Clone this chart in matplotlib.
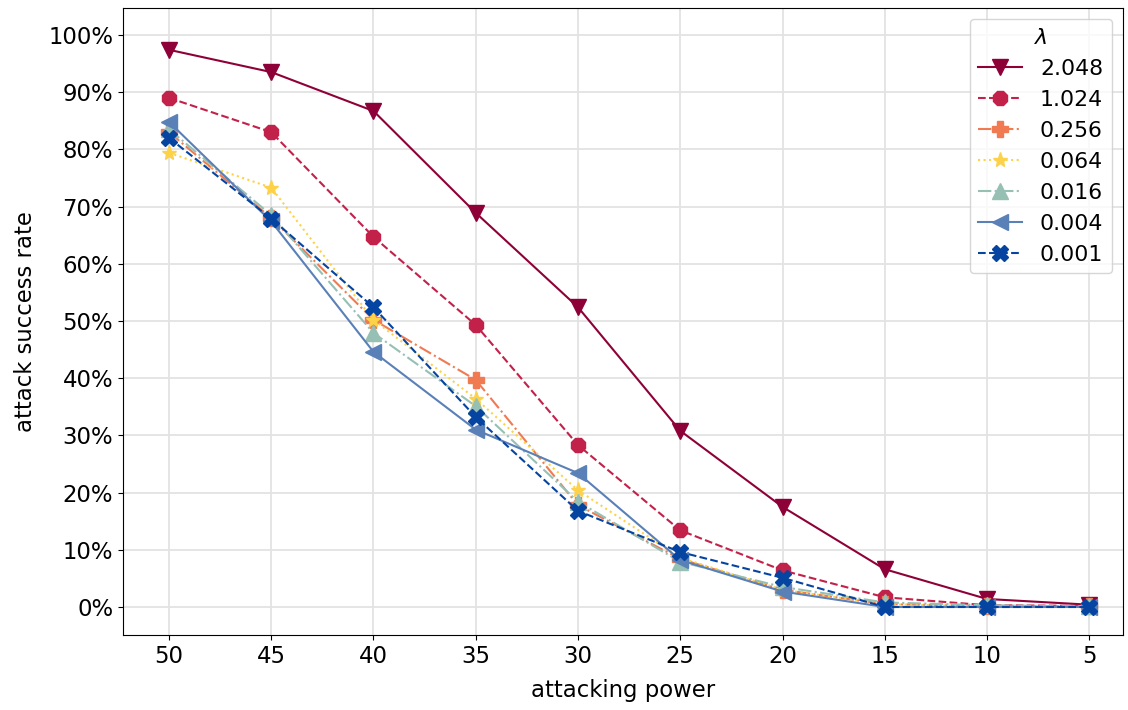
import matplotlib
matplotlib.use('Agg')
import matplotlib.pyplot as plt
from matplotlib.ticker import PercentFormatter
import numpy as np

powers = [50, 45, 40, 35, 30, 25, 20, 15, 10, 5]
lambdas = ['2.048', '1.024', '0.256', '0.064', '0.016', '0.004', '0.001']

rate_2048 = [97.4, 93.5, 86.7, 68.9, 52.4, 30.8, 17.5, 6.6, 1.4, 0.4]
rate_1024 = [89.0, 83.0, 64.7, 49.3, 28.3, 13.4, 6.4, 1.7, 0.3, 0.2]
rate_0256 = [83.0, 68.0, 50.2, 39.7, 17.8, 8.4, 3.0, 0.5, 0.2, 0.1]
rate_0064 = [79.4, 73.3, 50.2, 36.4, 20.4, 8.6, 3.0, 0.5, 0.1, 0.0]
rate_0016 = [83.5, 68.5, 47.9, 35.1, 18.4, 7.9, 3.5, 0.8, 0.3, 0.1]
rate_0004 = [84.8, 67.4, 44.6, 31.0, 23.4, 8.2, 2.7, 0.0, 0.0, 0.0]
rate_0001 = [82.0, 67.9, 52.4, 33.2, 16.8, 9.6, 5.1, 0.0, 0.0, 0.0]

rates = [rate_2048, rate_1024, rate_0256, rate_0064, rate_0016, rate_0004, rate_0001]
colors = ['#8e0138', '#c2214a', '#f07a52', '#fdd249', '#96c0b3', '#5a80b8', '#0544a0']
markers = ['v', '8', 'P', '*', '^', '<', 'X']
styles = ['-', '--', '-.', ':', '-.', '-', '--']

plt.rcParams['font.size'] = 16.4
fig = plt.figure(figsize=(11.28, 7.1), dpi=100)
ax = fig.add_axes([0.109, 0.1056, 0.8866, 0.8831])

x = np.arange(len(powers))
for lam, r, c, m, ls in zip(lambdas, rates, colors, markers, styles):
    ax.plot(x, np.array(r) / 100, color=c, marker=m, linestyle=ls, lw=1.5, ms=11, label=lam)

ax.set_xticks(x)
ax.set_xticklabels([str(p) for p in powers])
ax.set_yticks(np.arange(0, 1.01, 0.1))
ax.yaxis.set_major_formatter(PercentFormatter(1.0, decimals=0))
ax.set_xlim(-0.45, 9.33)
ax.set_ylim(-0.049, 1.047)
ax.grid(True, color='#e3e3e3', lw=1.3)
ax.set_axisbelow(True)
ax.set_xlabel('attacking power', labelpad=8)
ax.set_ylabel('attack success rate', labelpad=8)
ax.legend(title=r'$\lambda$', loc='upper right', fontsize=15.8, title_fontsize=15.8)

fig.savefig('out.png', dpi=100)
